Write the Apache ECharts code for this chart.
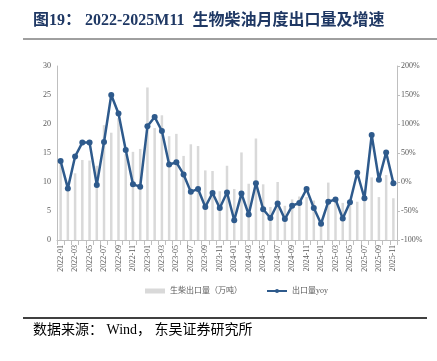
<!DOCTYPE html>
<html><head><meta charset="utf-8">
<script src="https://cdn.jsdelivr.net/npm/echarts@6/dist/echarts.min.js"></script>
<style>html,body{margin:0;padding:0;background:#fff}#c{width:437px;height:361px}</style>
</head><body><div id="c"></div>
<script>
const categories = ['2022-01','2022-02','2022-03','2022-04','2022-05','2022-06','2022-07','2022-08','2022-09','2022-10','2022-11','2022-12',
'2023-01','2023-02','2023-03','2023-04','2023-05','2023-06','2023-07','2023-08','2023-09','2023-10','2023-11','2023-12',
'2024-01','2024-02','2024-03','2024-04','2024-05','2024-06','2024-07','2024-08','2024-09','2024-10','2024-11','2024-12',
'2025-01','2025-02','2025-03','2025-04','2025-05','2025-06','2025-07','2025-08','2025-09','2025-10','2025-11'];
const exportVolume = [13.3,9.1,11.5,13.8,13.7,12.8,19.8,18.5,21.0,14.8,15.2,15.7,
26.3,19.3,21.5,17.9,18.3,14.5,16.5,16.2,12.0,11.9,8.4,12.8,
8.8,15.1,9.7,17.5,9.6,5.7,10.0,5.9,7.0,7.5,7.4,6.8,
2.4,9.9,6.7,6.4,6.3,6.6,7.1,10.8,7.4,11.2,7.2];
const exportYoY = [36,-11,44,68,68,-5,69,150,118,55,-4,-8,
96,112,88,30,34,13,-17,-12,-43,-19,-45,-18,
-66,-20,-56,-2,-47,-62,-37,-64,-41,-36,-12,-45,
-72,-34,-30,-63,-35,16,-28,81,4,51,-2];
const leftTicks = {min:0,max:30,interval:5};
const rightTicks = {min:-100,max:200,interval:50};

const chart = echarts.init(document.getElementById('c'));
const lab = {color:'#595959', fontSize:8, fontFamily:'Liberation Serif, serif'};
chart.setOption({
  animation:false,
  title:{
    text:'图19： 2022-2025M11  生物柴油月度出口量及增速',
    left:28, top:8,
    textStyle:{fontSize:16, fontWeight:'bold', color:'#1f3864', fontFamily:'Liberation Serif, "Noto Sans CJK SC", serif'}
  },
  graphic:[
    {type:'line', shape:{x1:23,y1:39,x2:437,y2:39}, style:{stroke:'#404040', lineWidth:1}},
    {type:'line', shape:{x1:23,y1:318,x2:427,y2:318}, style:{stroke:'#000', lineWidth:1.5}},
    {type:'text', left:33, top:323, style:{text:'数据来源： Wind， 东吴证券研究所', fontSize:14, fill:'#000', fontFamily:'Liberation Serif, "Noto Sans CJK SC", serif'}}
  ],
  legend:{
    top:282, left:140, itemGap:24, itemWidth:20, itemHeight:5,
    textStyle:{color:'#595959', fontSize:8, fontFamily:'Liberation Serif, "Noto Sans CJK SC", serif'},
    data:[{name:'生柴出口量（万吨）', icon:'rect'},{name:'出口量yoy'}]
  },
  grid:{left:57, right:40, top:66, bottom:121, containLabel:false},
  xAxis:{
    type:'category', data:categories, boundaryGap:true,
    axisLine:{lineStyle:{color:'#bfbfbf'}},
    axisTick:{show:true, interval:0, lineStyle:{color:'#bfbfbf'}},
    axisLabel:Object.assign({rotate:90, interval:1, margin:5}, lab)
  },
  yAxis:[
    Object.assign({type:'value', position:'left', splitLine:{show:false},
      axisLine:{show:true, lineStyle:{color:'#bfbfbf'}}, axisTick:{show:false},
      axisLabel:Object.assign({margin:6}, lab)}, leftTicks),
    Object.assign({type:'value', position:'right', splitLine:{show:false},
      axisLine:{show:true, lineStyle:{color:'#bfbfbf'}}, axisTick:{show:true, inside:false, length:3, lineStyle:{color:'#bfbfbf'}},
      axisLabel:Object.assign({margin:4, formatter:'{value}%'}, lab)}, rightTicks)
  ],
  series:[
    {name:'生柴出口量（万吨）', type:'bar', data:exportVolume, barWidth:2.5, itemStyle:{color:'#d9d9d9'}},
    {name:'出口量yoy', type:'line', yAxisIndex:1, data:exportYoY, symbol:'circle', symbolSize:6, showAllSymbol:true,
      lineStyle:{color:'#2e5a8c', width:2.5}, itemStyle:{color:'#2e5a8c'}}
  ]
});
</script></body></html>
